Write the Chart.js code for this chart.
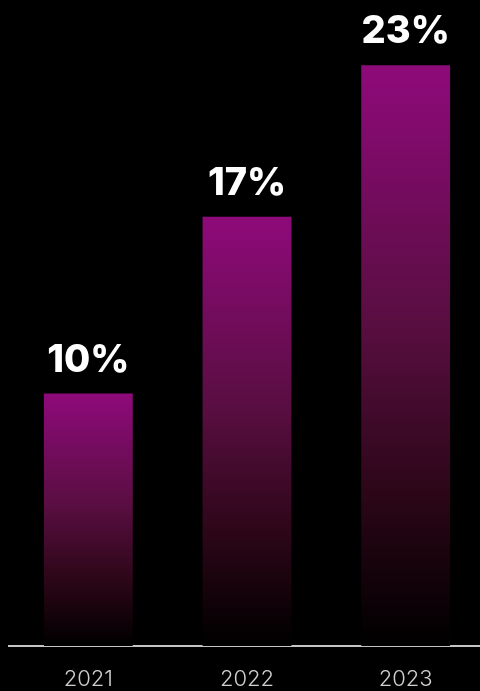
<!DOCTYPE html>
<html>
<head>
<meta charset="utf-8">
<script src="https://cdn.jsdelivr.net/npm/chart.js@4.4.0/dist/chart.umd.min.js"></script>
<style>
  html, body { margin: 0; padding: 0; background: #000; overflow: hidden; }
  #wrap { width: 485px; height: 691px; }
</style>
</head>
<body>
<div id="wrap"><canvas id="c" width="485" height="691"></canvas></div>
<script>
const categories = ["2021", "2022", "2023"];
const values = [10, 17, 23];
const valueLabels = ["10%", "17%", "23%"];

function barGradient(context) {
  const chart = context.chart;
  const area = chart.chartArea;
  if (!area) return "rgb(140,10,120)";
  const yScale = chart.scales.y;
  const v = context.dataset.data[context.dataIndex];
  const top = yScale.getPixelForValue(v);
  const bottom = area.bottom;
  const g = chart.ctx.createLinearGradient(0, top, 0, bottom);
  g.addColorStop(0, "rgb(142,10,122)");
  g.addColorStop(0.45, "rgb(88,14,64)");
  g.addColorStop(0.75, "rgb(42,6,22)");
  g.addColorStop(0.97, "rgb(4,0,2)");
  g.addColorStop(1, "rgb(0,0,0)");
  return g;
}

const labelPlugin = {
  id: "valueLabels",
  afterDatasetsDraw(chart) {
    const ctx = chart.ctx;
    const meta = chart.getDatasetMeta(0);
    ctx.save();
    ctx.fillStyle = "#ffffff";
    ctx.font = "800 38px Inter, 'Noto Sans', sans-serif";
    ctx.textAlign = "center";
    ctx.textBaseline = "alphabetic";
    meta.data.forEach((bar, i) => {
      ctx.fillText(valueLabels[i], bar.x, bar.y - 22);
    });
    ctx.restore();
  }
};

new Chart(document.getElementById("c"), {
  type: "bar",
  data: {
    labels: categories,
    datasets: [{
      data: values,
      backgroundColor: barGradient,
      borderWidth: 0,
      barPercentage: 0.56,
      categoryPercentage: 1.0
    }]
  },
  options: {
    responsive: false,
    devicePixelRatio: 1,
    animation: false,
    layout: { padding: { left: 9, right: 0, top: 40, bottom: 0 } },
    plugins: { legend: { display: false }, tooltip: { enabled: false } },
    scales: {
      y: { display: false, min: 0, max: 24 },
      x: {
        afterFit(scale) { scale.height = 45; },
        grid: { display: false, drawTicks: false },
        border: { display: true, color: "#c4c4c4", width: 2 },
        ticks: {
          color: "#cfcfcf",
          padding: 20,
          font: { family: "Inter, 'Noto Sans', sans-serif", size: 22, weight: 300 }
        }
      }
    }
  },
  plugins: [labelPlugin]
});
</script>
</body>
</html>
